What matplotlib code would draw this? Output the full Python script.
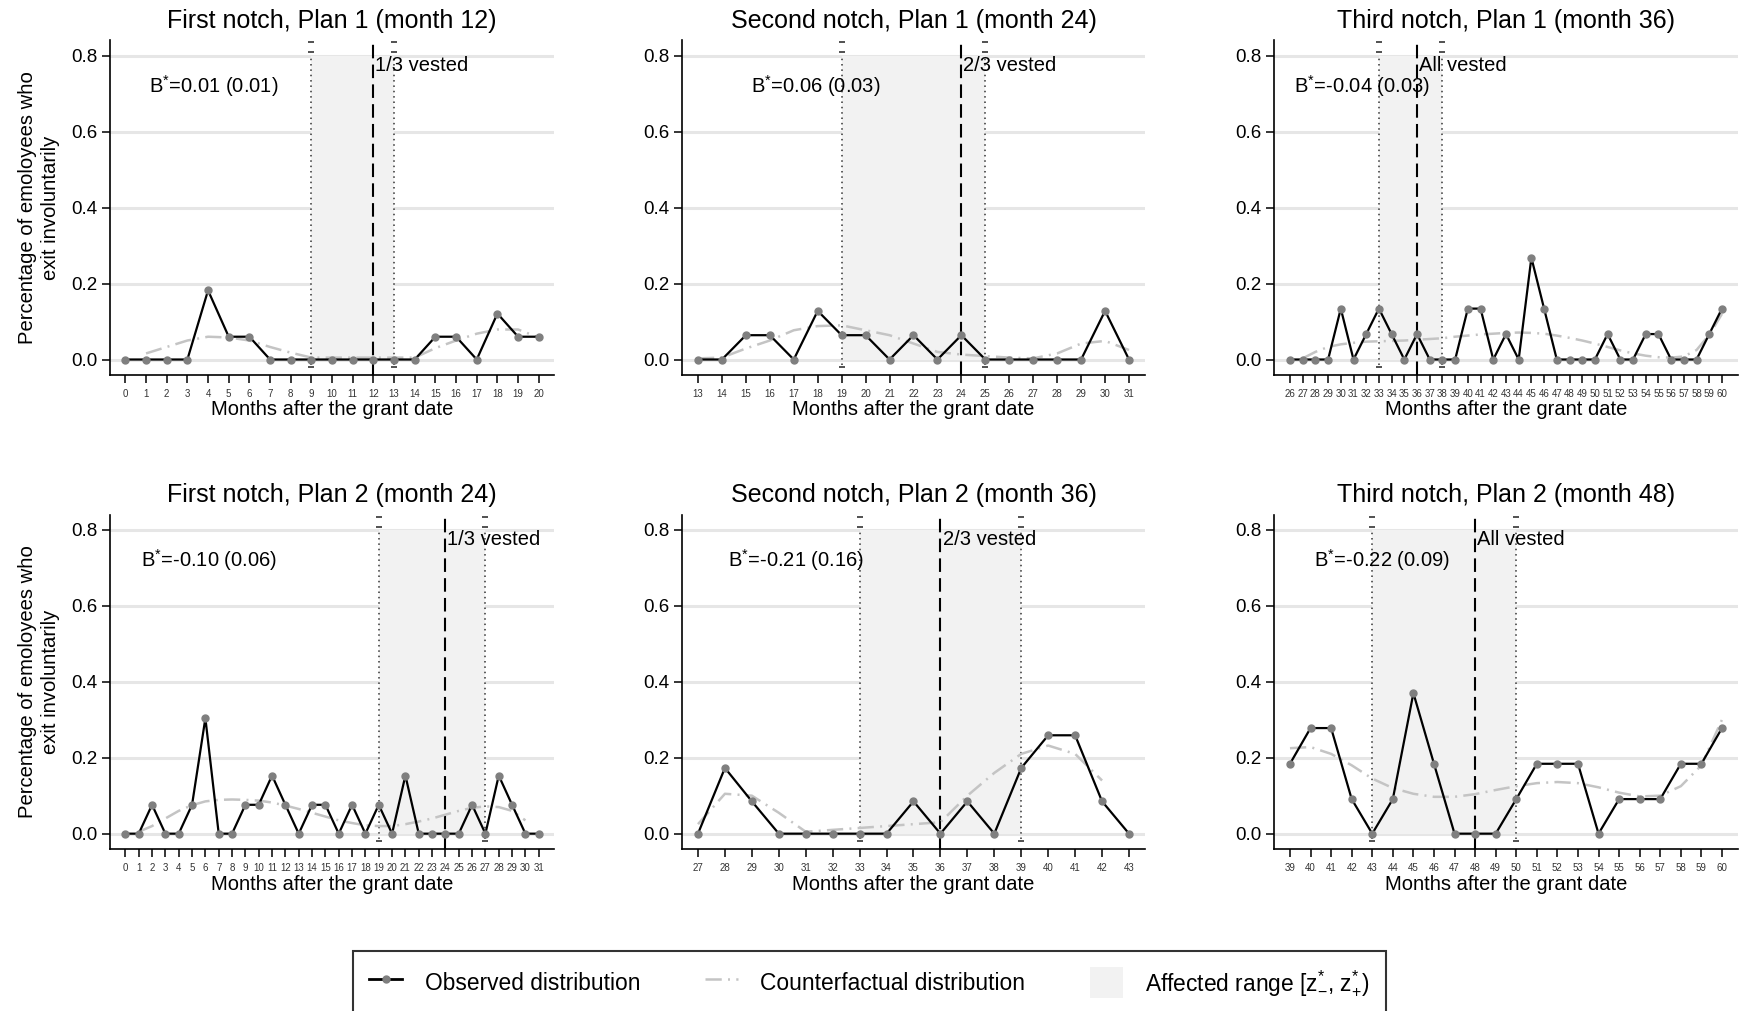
import matplotlib.pyplot as plt
from matplotlib.lines import Line2D
from matplotlib.patches import Patch
import matplotlib.transforms as mtransforms

plt.rcParams['font.family'] = ['Liberation Sans', 'DejaVu Sans']
plt.rcParams['mathtext.fontset'] = 'custom'
plt.rcParams['mathtext.rm'] = 'Liberation Sans'
plt.rcParams['mathtext.it'] = 'Liberation Sans:italic'

titles = ['First notch, Plan 1 (month 12)', 'Second notch, Plan 1 (month 24)',
          'Third notch, Plan 1 (month 36)', 'First notch, Plan 2 (month 24)',
          'Second notch, Plan 2 (month 36)', 'Third notch, Plan 2 (month 48)']

first_month = [0, 13, 26, 0, 27, 39]

observed = [
    [0, 0, 0, 0, 0.182, 0.06, 0.06, 0, 0, 0, 0, 0, 0, 0, 0, 0.06, 0.06, 0, 0.121, 0.06, 0.06],
    [0, 0, 0.064, 0.064, 0, 0.128, 0.064, 0.064, 0, 0.064, 0, 0.064, 0, 0, 0, 0, 0, 0.128, 0],
    [0, 0, 0, 0, 0.134, 0, 0.067, 0.134, 0.067, 0, 0.067, 0, 0, 0, 0.134, 0.134, 0, 0.067,
     0, 0.268, 0.134, 0, 0, 0, 0, 0.067, 0, 0, 0.067, 0.067, 0, 0, 0, 0.067, 0.134],
    [0, 0, 0.076, 0, 0, 0.076, 0.304, 0, 0, 0.076, 0.076, 0.153, 0.076, 0, 0.076, 0.076,
     0, 0.076, 0, 0.076, 0, 0.153, 0, 0, 0, 0, 0.076, 0, 0.153, 0.076, 0, 0],
    [0, 0.173, 0.085, 0, 0, 0, 0, 0, 0.085, 0, 0.085, 0, 0.173, 0.259, 0.259, 0.085, 0],
    [0.184, 0.278, 0.278, 0.091, 0, 0.091, 0.37, 0.184, 0, 0, 0, 0.091, 0.184, 0.184, 0.184,
     0, 0.091, 0.091, 0.091, 0.184, 0.184, 0.278],
]

cf_first_month = [1, 13, 27, 1, 27, 39]

counterfactual = [
    [0.016, 0.033, 0.05, 0.06, 0.058, 0.05, 0.033, 0.018, 0.005, 0.005, 0.005, 0.005, 0.005,
     0.005, 0.03, 0.05, 0.068, 0.079, 0.079, 0.058],
    [0.003, 0.005, 0.029, 0.05, 0.077, 0.088, 0.09, 0.077, 0.064, 0.042, 0.02, 0.013, 0.009,
     0.005, 0.003, 0.016, 0.042, 0.049, 0.025],
    [0.003, 0.02, 0.033, 0.04, 0.044, 0.047, 0.048, 0.049, 0.05, 0.052, 0.054, 0.056, 0.06,
     0.063, 0.066, 0.068, 0.07, 0.071, 0.07, 0.068, 0.063, 0.057, 0.05, 0.042, 0.033, 0.024,
     0.016, 0.01, 0.006, 0.005, 0.008, 0.025, 0.065, 0.12],
    [0.005, 0.02, 0.04, 0.06, 0.075, 0.085, 0.089, 0.09, 0.089, 0.087, 0.082, 0.074, 0.065,
     0.055, 0.045, 0.035, 0.028, 0.022, 0.02, 0.02, 0.025, 0.032, 0.04, 0.05, 0.06, 0.068,
     0.072, 0.07, 0.06, 0.035],
    [0.025, 0.105, 0.1, 0.055, 0.005, 0.01, 0.015, 0.02, 0.025, 0.03, 0.1, 0.16, 0.21, 0.232,
     0.21, 0.14],
    [0.225, 0.228, 0.21, 0.18, 0.145, 0.12, 0.105, 0.097, 0.097, 0.104, 0.115, 0.125, 0.133,
     0.136, 0.133, 0.122, 0.108, 0.098, 0.1, 0.125, 0.18, 0.3],
]

range_lo = [9, 19, 33, 19, 33, 43]
range_hi = [13, 25, 38, 27, 39, 50]
notch = [12, 24, 36, 24, 36, 48]
vest_labels = ['1/3 vested', '2/3 vested', 'All vested', '1/3 vested', '2/3 vested', 'All vested']
bunching = ['0.01 (0.01)', '0.06 (0.03)', '-0.04 (0.03)', '-0.10 (0.06)', '-0.21 (0.16)', '-0.22 (0.09)']
bunching_x = [1.15, 15.2, 26.3, 1.2, 28.1, 40.15]

yticks = [0.0, 0.2, 0.4, 0.6, 0.8]

fig = plt.figure(figsize=(17.39, 10.11), dpi=100)

col_left = [0.0633, 0.3922, 0.7326]
col_width = [0.2553, 0.2662, 0.2668]
row_bottom = [0.629, 0.160]
row_height = 0.331

shade = '#f2f2f2'
cf_color = '#c4c4c4'
dot_color = '#7f7f7f'

for i in range(6):
    r, c = divmod(i, 3)
    ax = fig.add_axes([col_left[c], row_bottom[r], col_width[c], row_height])
    months = list(range(first_month[i], first_month[i] + len(observed[i])))
    cf_months = list(range(cf_first_month[i], cf_first_month[i] + len(counterfactual[i])))
    span = months[-1] - months[0]
    ax.set_xlim(months[0] - 0.037 * span, months[-1] + 0.037 * span)
    ax.set_ylim(-0.041, 0.84)

    ax.set_axisbelow(True)
    ax.yaxis.grid(True, color='#e6e6e6', lw=2.2)
    ax.fill_between([range_lo[i], range_hi[i]], 0, 0.8, color=shade, lw=0, zorder=1)

    # bounds of the affected range: dotted with small caps at the ends
    trans = mtransforms.blended_transform_factory(ax.transData, ax.transAxes)
    for xb in (range_lo[i], range_hi[i]):
        ax.plot([xb, xb], [0.03, 0.955], transform=trans, color='#333333', lw=1.1,
                ls=(0, (1, 2.5)), zorder=2)
        ax.plot([xb] * 3, [0.994, 0.964, 0.024], transform=trans, ls='none', marker='_',
                ms=4.5, mew=1.2, color='#333333', zorder=2)

    ax.axvline(notch[i], color='black', lw=1.5, dashes=(6.5, 3), zorder=3)

    cf_line, = ax.plot(cf_months, counterfactual[i], color=cf_color, lw=1.8, zorder=3)
    cf_line.set_dashes((6.5, 2.5, 0.8, 2.5))
    ax.plot(months, observed[i], color='black', lw=1.6, marker='o', ms=5,
            mfc=dot_color, mec=dot_color, zorder=4)

    ax.text(bunching_x[i], 0.72, r'B$^{*}$=' + bunching[i], fontsize=14.5, va='center',
            ha='left', zorder=5)
    ax.annotate(vest_labels[i], (notch[i], 0.775), xytext=(1.5, 0), textcoords='offset points',
                fontsize=14.5, va='center', ha='left', zorder=5)

    ax.set_title(titles[i], fontsize=18, pad=9)
    ax.set_xlabel('Months after the grant date', fontsize=14.5, labelpad=1)
    if c == 0:
        ax.set_ylabel('Percentage of emoloyees who\nexit involuntarily', fontsize=14.6,
                      linespacing=1.25, labelpad=8)

    ax.set_xticks(months)
    ax.set_xticklabels([str(m) for m in months], fontsize=7, color='#333333')
    ax.set_yticks(yticks)
    ax.set_yticklabels(['%.1f' % v for v in yticks], fontsize=13.5)
    ax.tick_params(axis='x', length=6, width=1.1, pad=4)
    ax.tick_params(axis='y', length=6, width=1.1, pad=3)

    for side in ('top', 'right'):
        ax.spines[side].set_visible(False)
    for side in ('left', 'bottom'):
        ax.spines[side].set_linewidth(1.2)

handles = [
    Line2D([], [], color='black', lw=2, marker='o', ms=5, mfc=dot_color, mec=dot_color),
    Line2D([], [], color=cf_color, lw=1.8, dashes=(6.5, 2.5, 0.8, 2.5)),
    Patch(facecolor=shade, edgecolor='none'),
]
labels = ['Observed distribution', 'Counterfactual distribution',
          r'Affected range [z$_{-}^{*}$, z$_{+}^{*}$)']
leg = fig.legend(handles, labels, ncol=3, loc='center', bbox_to_anchor=(0.5, 0.028),
                 fontsize=16.4, frameon=True, fancybox=False, edgecolor='black',
                 borderpad=0.7, handlelength=1.45, handleheight=1.75, handletextpad=0.97,
                 columnspacing=2.85, borderaxespad=0)
leg.get_frame().set_linewidth(1.5)

fig.savefig('out.png', dpi=100)
